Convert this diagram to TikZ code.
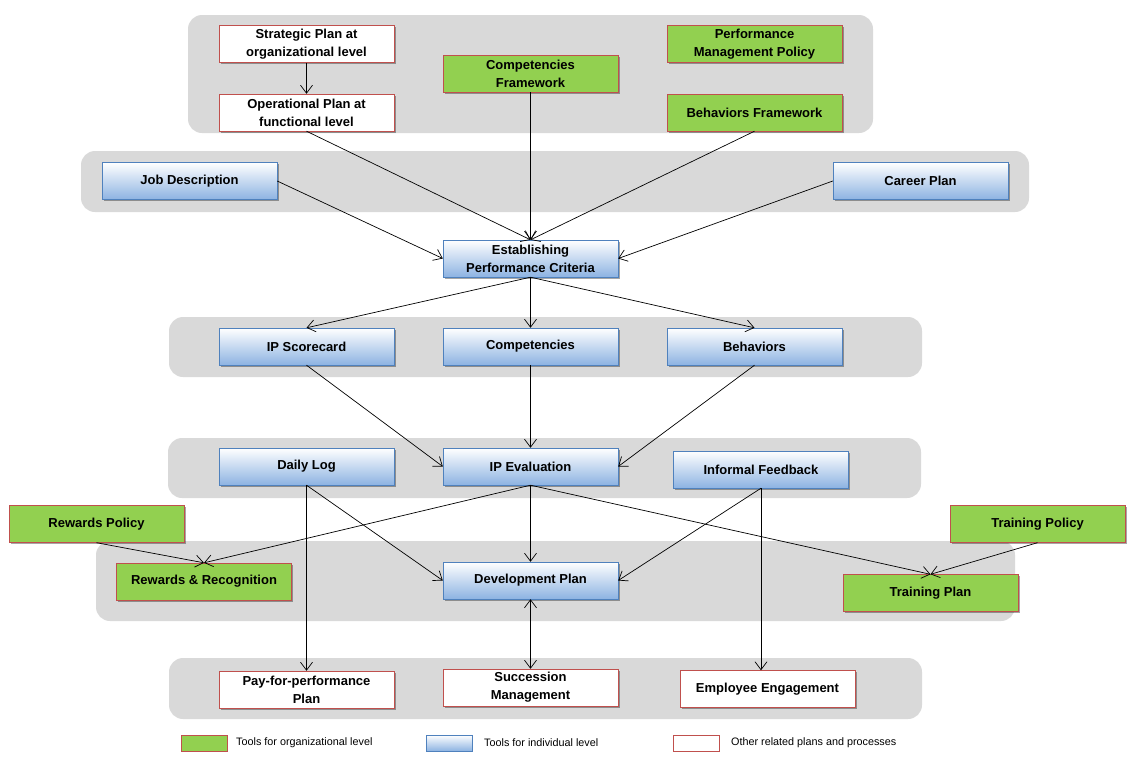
\documentclass[tikz,border=0pt]{standalone}
\usepackage{fontspec}
\setmainfont{Liberation Sans}
\usetikzlibrary{arrows.meta,shadows}
\definecolor{panelgray}{RGB}{217,217,217}
\definecolor{orggreen}{RGB}{146,208,80}
\definecolor{redline}{RGB}{192,80,77}
\definecolor{blueline}{RGB}{79,129,189}
\definecolor{bluebot}{RGB}{141,179,226}

\begin{document}
\begin{tikzpicture}[x=1pt,y=-1pt,>={Straight Barb[length=8pt,width=12pt]},
  box/.style={minimum width=175pt,minimum height=37pt,inner sep=1pt,align=center,
    font=\fontsize{13}{18}\selectfont\bfseries,
    drop shadow={shadow xshift=1.5pt,shadow yshift=-1.5pt,opacity=0.35,fill=black}},
  orgbox/.style={box,draw=redline,fill=orggreen},
  indbox/.style={box,draw=blueline,top color=white,bottom color=bluebot},
  relbox/.style={box,draw=redline,fill=white},
  keybox/.style={minimum width=46pt,minimum height=16pt,inner sep=0pt,
    drop shadow={shadow xshift=1.2pt,shadow yshift=-1.2pt,opacity=0.35,fill=black}},
  keytext/.style={anchor=west,inner sep=0pt,font=\fontsize{10.8}{13}\selectfont},
  panel/.style={fill=panelgray,rounded corners=14pt},
  link/.style={line width=0.7pt,->}]
\useasboundingbox (0,0) rectangle (1132,761);
% grey bands
\fill[panel] (188,15) rectangle (873,133);
\fill[panel] (81,151) rectangle (1029,212);
\fill[panel] (169,317) rectangle (922,377);
\fill[panel] (168,438) rectangle (921,498);
\fill[panel] (96,541) rectangle (1015,621);
\fill[panel] (169,658) rectangle (922,719);
% boxes
\node[relbox] (strat) at (306.5,44) {Strategic Plan at\\organizational level};
\node[relbox] (oper) at (306.5,112.5) {Operational Plan at\\functional level};
\node[orgbox] (compfw) at (530.5,73.5) {Competencies\\Framework};
\node[orgbox] (pmpolicy) at (754.5,44) {Performance\\Management Policy};
\node[orgbox] (behfw) at (754.5,112.5) {Behaviors Framework};
\node[indbox] (jobdesc) at (189.5,181) {Job Description};
\node[indbox] (career) at (920.5,181) {Career Plan};
\node[indbox] (estab) at (530.5,258.5) {Establishing\\Performance Criteria};
\node[indbox] (ipscore) at (306.5,346.5) {IP Scorecard};
\node[indbox] (comp) at (530.5,346.5) {Competencies};
\node[indbox] (beh) at (754.5,346.5) {Behaviors};
\node[indbox] (daily) at (306.5,466.5) {Daily Log};
\node[indbox] (ipeval) at (530.5,466.5) {IP Evaluation};
\node[indbox] (informal) at (761,469.5) {Informal Feedback};
\node[orgbox] (rwpolicy) at (96.5,524) {Rewards Policy};
\node[orgbox] (trpolicy) at (1037.5,524) {Training Policy};
\node[orgbox] (rwrec) at (204,581.5) {Rewards \& Recognition};
\node[indbox] (devplan) at (530.5,580.5) {Development Plan};
\node[orgbox] (trplan) at (930.5,593) {Training Plan};
\node[relbox] (payplan) at (306.5,689.5) {Pay-for-performance\\Plan};
\node[relbox] (succ) at (530.5,687.5) {Succession\\Management};
\node[relbox] (engage) at (767.5,689) {Employee Engagement};
% connectors
\draw[link] (strat) -- (oper);
\draw[link] (oper.south) -- (estab.north);
\draw[link] (compfw.south) -- (estab.north);
\draw[link] (behfw.south) -- (estab.north);
\draw[link] (jobdesc.east) -- (estab.west);
\draw[link] (career.west) -- (estab.east);
\draw[link] (estab.south) -- (ipscore.north);
\draw[link] (estab.south) -- (comp.north);
\draw[link] (estab.south) -- (beh.north);
\draw[link] (ipscore.south) -- (ipeval.west);
\draw[link] (comp.south) -- (ipeval.north);
\draw[link] (beh.south) -- (ipeval.east);
\draw[link] (ipeval.south) -- (rwrec.north);
\draw[link] (ipeval.south) -- (devplan.north);
\draw[link] (ipeval.south) -- (trplan.north);
\draw[link] (rwpolicy.south) -- (rwrec.north);
\draw[link] (trpolicy.south) -- (trplan.north);
\draw[link] (daily.south) -- (devplan.west);
\draw[link] (daily.south) -- (payplan.north);
\draw[link] (informal.south) -- (devplan.east);
\draw[link] (informal.south) -- (informal.south |- engage.north);
\draw[link,<->] (devplan.south) -- (succ.north);
% legend
\node[keybox,draw=redline,fill=orggreen] (keyorg) at (204,743) {};
\node[keytext] (keyorgtxt) at (236,743) {Tools for organizational level};
\node[keybox,draw=blueline,top color=white,bottom color=bluebot] (keyind) at (449,743) {};
\node[keytext] (keyindtxt) at (484,743) {Tools for individual level};
\node[keybox,draw=redline,fill=white] (keyrel) at (696,743) {};
\node[keytext] (keyreltxt) at (731,743) {Other related plans and processes};
\end{tikzpicture}
\end{document}
